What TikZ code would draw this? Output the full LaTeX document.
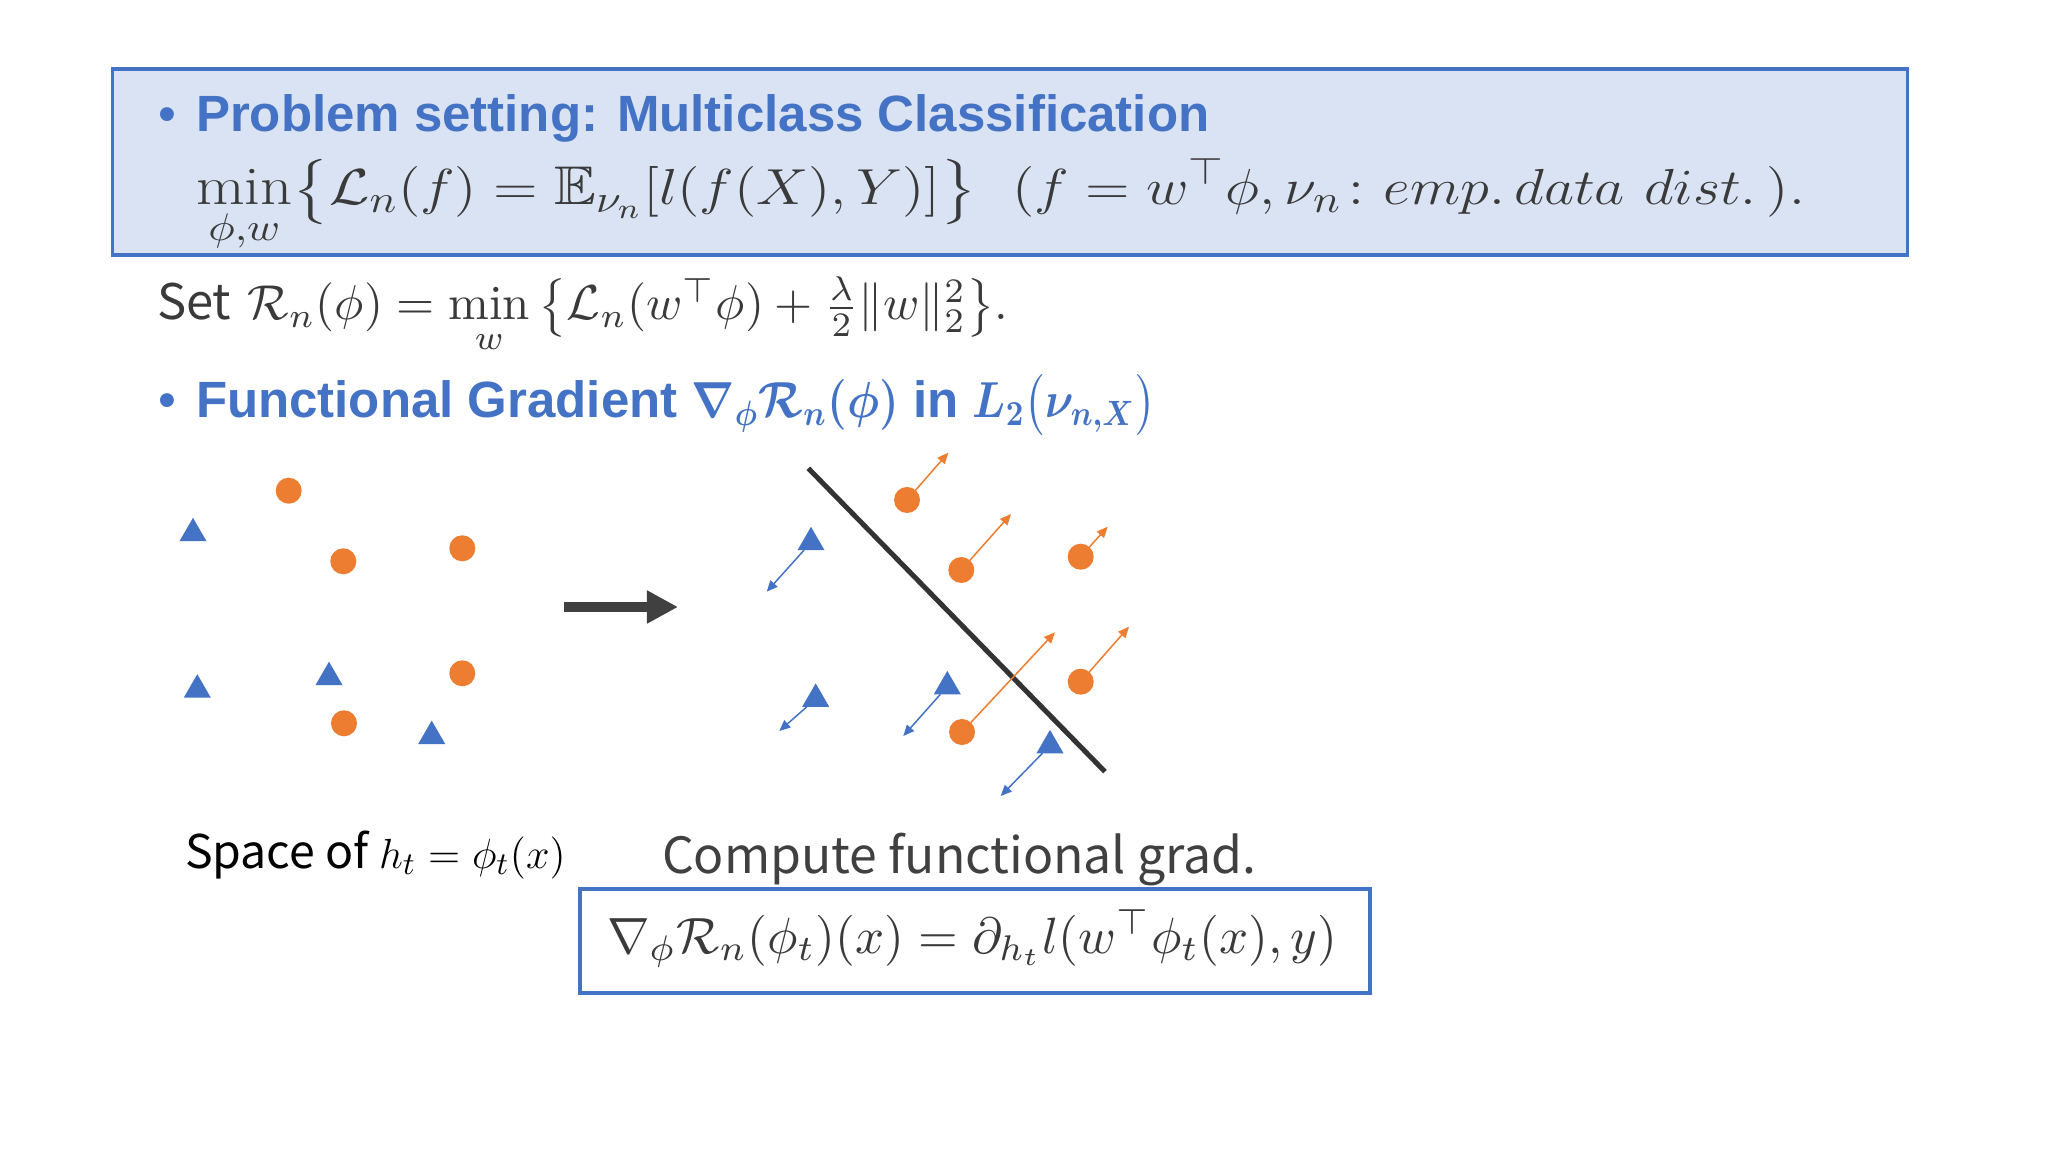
\documentclass[tikz,border=0pt]{standalone}
\usepackage{amsmath,amssymb}
\usepackage{fontspec}
\newfontfamily\hdrfont{Liberation Sans}
\newfontfamily\jpfont{Noto Sans CJK JP}
\usetikzlibrary{shapes.geometric,arrows.meta}
\definecolor{myblue}{HTML}{4472C4}
\definecolor{boxfill}{HTML}{DAE3F3}
\definecolor{myorange}{HTML}{ED7D31}
\definecolor{darkline}{HTML}{333333}
\definecolor{txtgray}{HTML}{3A3A3A}
\definecolor{arrgray}{HTML}{404040}
\newcommand{\headtwo}{Functional Gradient \resizebox{2.07cm}{\height}{$\boldsymbol{\nabla_{\phi}\mathcal{R}_n(\phi)}$} in \resizebox{1.83cm}{\height}{$\boldsymbol{L_2\bigl(\nu_{n,X}\bigr)}$}}
\begin{document}
\begin{tikzpicture}[x=0.01cm,y=-0.01cm,
  tribox/.style={regular polygon, regular polygon sides=3, fill=myblue, minimum size=0.312cm, inner sep=0pt, outer sep=0pt},
  circdot/.style={circle, fill=myorange, minimum size=0.26cm, inner sep=0pt, outer sep=0pt},
  oarrow/.style={draw=myorange, line width=0.015cm, -{Triangle[length=0.11cm,width=0.095cm]}},
  barrow/.style={draw=myblue, line width=0.015cm, -{Triangle[length=0.11cm,width=0.095cm]}},
  panelbox/.style={draw=myblue, line width=0.035cm, inner sep=0pt},
  txt/.style={inner sep=0pt, outer sep=0pt, anchor=base west},
  sepline/.style={draw=darkline, line width=0.05cm},
  bigarrow/.style={draw=arrgray, line width=0.1cm, -{Triangle[length=0.31cm,width=0.31cm]}}
]
\useasboundingbox[fill=white] (0,0) rectangle (2048,1152);

% boxes
\node[panelbox, fill=boxfill, minimum width=17.94cm, minimum height=1.86cm] (topbox) at (1010,162) {};
\node[panelbox, fill=white, minimum width=7.90cm, minimum height=1.04cm] (botbox) at (975,941) {};

% header 1
\node[txt, text=myblue, font=\hdrfont\fontsize{14.5}{17}\selectfont] (bul1) at (158,132) {•};
\node[txt, text=myblue, font=\hdrfont\bfseries\fontsize{14.5}{17}\selectfont] (h1) at (196,132) {Problem setting: Multiclass Classification};
\node[txt, text=txtgray] (m1) at (196,205) {\resizebox{16.08cm}{\height}{\fontsize{15.5}{18}\selectfont$\displaystyle \min_{\phi,w}\bigl\{\mathcal{L}_n(f)=\mathbb{E}_{\nu_n}[l(f(X),Y)]\bigr\}\;\ (f=w^{\top}\phi,\nu_n\colon emp.\,data\ dist.\,).$}};

% set line
\node[txt, text=txtgray] (setl) at (157,320) {\resizebox{8.51cm}{!}{{\jpfont Set} $\mathcal{R}_n(\phi)=\min\limits_{w}\left\{\mathcal{L}_n(w^{\top}\phi)+\tfrac{\lambda}{2}\|w\|_2^2\right\}$.}};

% header 2
\node[txt, text=myblue, font=\hdrfont\fontsize{14.5}{17}\selectfont] (bul2) at (158,418) {•};
\node[txt, text=myblue, font=\hdrfont\bfseries\fontsize{14.5}{17}\selectfont] (h2) at (196,418) {\headtwo};

% left scatter
\node[tribox] (lt1) at (193,533.4) {};
\node[tribox] (lt2) at (197.3,689.8) {};
\node[tribox] (lt3) at (329,677.3) {};
\node[tribox] (lt4) at (431.7,736.2) {};
\node[circdot] (lc1) at (288.7,490.7) {};
\node[circdot] (lc2) at (343.3,561.3) {};
\node[circdot] (lc3) at (462.3,548.3) {};
\node[circdot] (lc4) at (462.3,673.3) {};
\node[circdot] (lc5) at (344,723.3) {};

% big arrow
\coordinate (arrS) at (564,607);
\coordinate (arrE) at (678,607);
\draw[bigarrow] (arrS) -- (arrE);

% right scatter
\coordinate (sepA) at (808.3,468.3);
\coordinate (sepB) at (1105,771.7);
\draw[sepline] (sepA) -- (sepB);

\node[tribox] (rt1) at (811,542.4) {};
\node[tribox] (rt2) at (815.7,699) {};
\node[tribox] (rt3) at (947.3,686.5) {};
\node[tribox] (rt4) at (1050,745.5) {};
\coordinate (rt1tip) at (766.7,591.7);
\coordinate (rt2tip) at (779.3,731);
\coordinate (rt3tip) at (903.3,736);
\coordinate (rt4tip) at (1000.7,796);
\draw[barrow] (rt1) -- (rt1tip);
\draw[barrow] (rt2) -- (rt2tip);
\draw[barrow] (rt3) -- (rt3tip);
\draw[barrow] (rt4) -- (rt4tip);

\node[circdot] (rc1) at (907,500) {};
\node[circdot] (rc2) at (961.3,570) {};
\node[circdot] (rc3) at (1080.7,556.7) {};
\node[circdot] (rc4) at (1080.7,681.7) {};
\node[circdot] (rc5) at (962,732) {};
\coordinate (rc1tip) at (948.3,452.7);
\coordinate (rc2tip) at (1011,514);
\coordinate (rc3tip) at (1107.7,526.7);
\coordinate (rc4tip) at (1129,626.7);
\coordinate (rc5tip) at (1055,632.3);
\draw[oarrow] (rc1) -- (rc1tip);
\draw[oarrow] (rc2) -- (rc2tip);
\draw[oarrow] (rc3) -- (rc3tip);
\draw[oarrow] (rc4) -- (rc4tip);
\draw[oarrow] (rc5) -- (rc5tip);

% captions
\node[txt, text=black] (spc) at (185,868) {\jpfont\fontsize{13.2}{16}\selectfont Space of $h_t=\phi_t(x)$};
\node[txt, text=arrgray] (cmp) at (662,873) {\jpfont\fontsize{14.2}{17}\selectfont Compute functional grad.};
\node[txt, text=txtgray] (bf) at (607,953) {\resizebox{7.30cm}{!}{$\nabla_{\phi}\mathcal{R}_n(\phi_t)(x)=\partial_{h_t}l(w^{\top}\phi_t(x),y)$}};
\end{tikzpicture}
\end{document}
